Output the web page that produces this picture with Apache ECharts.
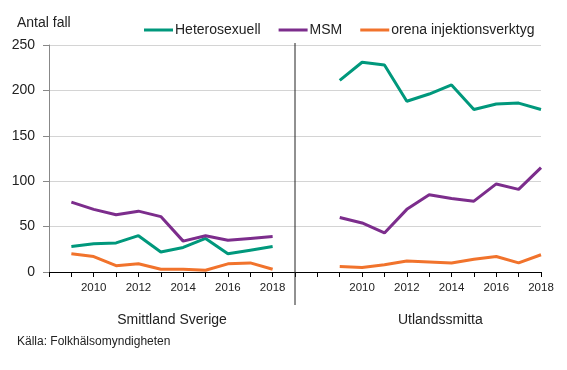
<!DOCTYPE html>
<html>
<head>
<meta charset="utf-8">
<script src="https://cdn.jsdelivr.net/npm/echarts@6/dist/echarts.min.js"></script>
<style>
html,body{margin:0;padding:0;background:#fff;}
#chart{width:567px;height:370px;}
</style>
</head>
<body>
<div id="chart"></div>
<script>
// ---- data ----
var years = [2009, 2010, 2011, 2012, 2013, 2014, 2015, 2016, 2017, 2018];
var panelNames = ['Smittland Sverige', 'Utlandssmitta'];
var seriesNames = ['Heterosexuell', 'MSM', 'orena injektionsverktyg'];
// Smittland Sverige
var heteroSverige = [28, 31, 32, 40, 22, 27, 37, 20, 24, 28];
var msmSverige    = [77, 69, 63, 67, 61, 34, 40, 35, 37, 39];
var orenaSverige  = [20, 17, 7, 9, 3, 3, 2, 9, 10, 3];
// Utlandssmitta
var heteroUtland  = [211, 231, 228, 188, 196, 206, 179, 185, 186, 179];
var msmUtland     = [60, 54, 43, 69, 85, 81, 78, 97, 91, 115];
var orenaUtland   = [6, 5, 8, 12, 11, 10, 14, 17, 10, 19];
var yTicks = [0, 50, 100, 150, 200, 250];
var sourceText = 'Källa: Folkhälsomyndigheten';
var yName = 'Antal fall';

var colors = ['#00987c', '#7c2d8c', '#f1732c'];
var FONT = "'Liberation Sans', Arial, sans-serif";

// build one category axis: [blank, years..., blank(divider), blank, years...]
var categories = [''].concat(years.map(String), ['', ''], years.map(String));
function build(left, right) {
  return [null].concat(left, [null, null], right);
}
var dividerIndex = years.length + 1;

var chart = echarts.init(document.getElementById('chart'), null, {renderer: 'canvas'});
var option = {
  animation: false,
  color: colors,
  textStyle: {fontFamily: FONT},
  grid: {left: 49, right: 26, top: 45, bottom: 98, containLabel: false},
  legend: {
    data: seriesNames,
    left: 139, top: 18,
    icon: 'rect', itemWidth: 29, itemHeight: 3, itemGap: 18,
    textStyle: {fontFamily: FONT, fontSize: 14, color: '#222', padding: [0, 0, 0, -3]}
  },
  xAxis: {
    type: 'category',
    data: categories,
    boundaryGap: false,
    axisLine: {lineStyle: {color: '#000', width: 1}},
    axisTick: {show: true, interval: 0, length: 5, lineStyle: {color: '#000'}},
    axisLabel: {
      interval: function (idx, val) { return val !== '' && (+val) % 2 === 0; },
      fontFamily: FONT, fontSize: 11.5, color: '#222', margin: 10
    },
    splitLine: {show: false}
  },
  yAxis: {
    type: 'value',
    min: yTicks[0], max: yTicks[yTicks.length - 1], interval: yTicks[1] - yTicks[0],
    axisLine: {show: true, lineStyle: {color: '#888'}},
    axisTick: {show: true, length: 6, lineStyle: {color: '#888'}},
    axisLabel: {fontFamily: FONT, fontSize: 14, color: '#222', margin: 14},
    splitLine: {lineStyle: {color: '#d4d4d4'}}
  },
  series: [
    {name: seriesNames[0], type: 'line', data: build(heteroSverige, heteroUtland)},
    {name: seriesNames[1], type: 'line', data: build(msmSverige, msmUtland)},
    {name: seriesNames[2], type: 'line', data: build(orenaSverige, orenaUtland)}
  ].map(function (s) {
    s.showSymbol = false; s.symbol = 'none';
    s.lineStyle = {width: 3};
    s.z = 3;
    return s;
  })
};
chart.setOption(option);

var divX = chart.convertToPixel({xAxisIndex: 0}, dividerIndex);
var yTop = chart.convertToPixel({yAxisIndex: 0}, yTicks[yTicks.length - 1]);
var yZero = chart.convertToPixel({yAxisIndex: 0}, 0);
var leftCenter = (chart.convertToPixel({xAxisIndex: 0}, 1) + chart.convertToPixel({xAxisIndex: 0}, years.length)) / 2;
var rightCenter = (chart.convertToPixel({xAxisIndex: 0}, years.length + 3) + chart.convertToPixel({xAxisIndex: 0}, 2 * years.length + 2)) / 2;

chart.setOption({
  graphic: [
    {type: 'line', z: 10, shape: {x1: divX, y1: yTop - 2, x2: divX, y2: yZero + 33},
      style: {stroke: '#222', lineWidth: 1}},
    {type: 'text', left: 17, top: 16, style: {text: yName, font: '14px ' + FONT, fill: '#222'}},
    {type: 'text', x: leftCenter, y: yZero + 48,
      style: {text: panelNames[0], font: '14px ' + FONT, fill: '#222', align: 'center', verticalAlign: 'middle'}},
    {type: 'text', x: rightCenter, y: yZero + 48,
      style: {text: panelNames[1], font: '14px ' + FONT, fill: '#222', align: 'center', verticalAlign: 'middle'}},
    {type: 'text', left: 17, top: 336, style: {text: sourceText, font: '12px ' + FONT, fill: '#222'}}
  ]
});
</script>
</body>
</html>
